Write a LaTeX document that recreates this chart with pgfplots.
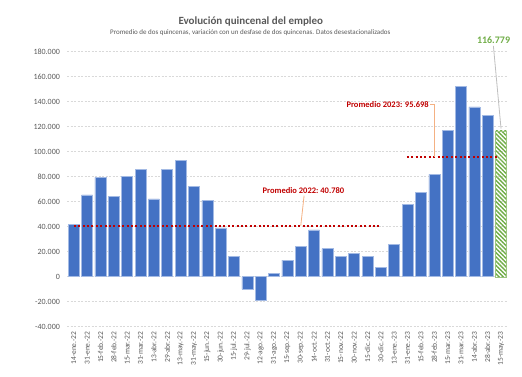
\documentclass[border=0pt]{standalone}
\usepackage{fontspec}
\setmainfont{Carlito}
\usepackage{pgfplots}
\usepackage{pgfplotstable}
\pgfplotsset{compat=1.18}
\usetikzlibrary{patterns.meta}
\definecolor{barblue}{HTML}{4472C4}
\definecolor{baredge}{HTML}{A3BAE4}
\definecolor{avgred}{HTML}{C00000}
\definecolor{hgreen}{HTML}{70AD47}
\definecolor{txtgray}{HTML}{595959}
\definecolor{gridgray}{HTML}{D9D9D9}
\definecolor{leadorange}{HTML}{F4B183}
\definecolor{leadgray}{HTML}{BFBFBF}

\pgfplotstableread{
x y
0 42000
1 65400
2 79500
3 64000
4 80300
5 85900
6 62200
7 85800
8 92800
9 72500
10 61100
11 39000
12 16300
13 -10100
14 -19200
15 2900
16 13300
17 24500
18 37400
19 22400
20 16000
21 18700
22 16500
23 7500
24 25900
25 57800
26 67200
27 81900
28 117200
29 152500
30 135800
31 129100
}\empleo

\begin{document}
\begin{tikzpicture}
\useasboundingbox (-67.1pt,-49.3pt) rectangle (454.9pt,326.7pt);
\begin{axis}[
  scale only axis, width=440.6pt, height=275pt,
  at={(0pt,0pt)}, anchor=south west,
  xmin=-0.5, xmax=32.5, ymin=-40000, ymax=180000,
  ytick={-40000,-20000,...,180000},
  xtick={0,...,32},
  xticklabels={14-ene.-22,31-ene.-22,15-feb.-22,28-feb.-22,15-mar.-22,31-mar.-22,13-abr.-22,29-abr.-22,13-may.-22,31-may.-22,15-jun.-22,30-jun.-22,15-jul.-22,29-jul.-22,12-ago.-22,31-ago.-22,15-sep.-22,30-sep.-22,14-oct.-22,31-oct.-22,15-nov.-22,30-nov.-22,15-dic.-22,30-dic.-22,13-ene.-23,31-ene.-23,15-feb.-23,28-feb.-23,15-mar.-23,31-mar.-23,14-abr.-23,28-abr.-23,15-may.-23},
  xticklabel style={rotate=90, anchor=east, inner sep=0pt, font=\fontsize{7.5}{8}\selectfont, text=txtgray},
  xticklabel shift=5pt,
  yticklabel style={inner sep=0pt, font=\fontsize{8}{9}\selectfont, text=txtgray},
  yticklabel shift=7pt,
  /pgf/number format/.cd, fixed, precision=0, 1000 sep={.}, assume math mode=true,
  /pgfplots/.cd,
  scaled y ticks=false,
  axis line style={draw=none},
  major tick length=0pt,
  ymajorgrids,
  grid style={gridgray, line width=0.6pt, dash pattern=on 2pt off 1.5pt},
  clip=false,
]
\addplot[ybar, bar width=11pt, bar shift=0pt, fill=barblue, draw=baredge, line width=0.5pt] table[x=x,y=y] {\empleo};
\addplot[ybar, bar width=11pt, bar shift=0pt, draw=hgreen!70, line width=0.4pt,
  pattern={Lines[angle=-45, distance=3pt, line width=1.4pt]}, pattern color=hgreen] coordinates {(32,116779)};
\addplot[avgred, line width=2pt, dash pattern=on 2pt off 2.4pt] coordinates {(0,40780) (23,40780)};
\addplot[avgred, line width=2pt, dash pattern=on 2pt off 2.4pt] coordinates {(24.95,95698) (31.75,95698)};

\draw[leadorange, line width=0.8pt] (axis cs:17.25,64800) -- (axis cs:17.0,40780);
\node[font=\fontsize{8.5}{10}\selectfont\bfseries, text=avgred] at (axis cs:17.2,68800) {Promedio 2022:\ 40.780};
\draw[leadorange, line width=0.8pt] (axis cs:26.7,137900) -- (axis cs:26.98,137900) -- (axis cs:26.98,95698);
\node[anchor=east, inner sep=1pt, font=\fontsize{8.5}{10}\selectfont\bfseries, text=avgred] at (axis cs:26.68,137900) {Promedio 2023: 95.698};
\draw[leadgray, line width=0.8pt] (axis cs:31.43,184600) -- (axis cs:32,118500);
\node[font=\fontsize{10}{12}\selectfont\bfseries, text=hgreen] at (axis cs:31.44,189400) {116.779};
\end{axis}
\node[font=\fontsize{11}{13}\selectfont\bfseries, text=txtgray] at (183.7pt,304.7pt) {Evolución quincenal del empleo};
\node[font=\fontsize{7}{8}\selectfont, text=txtgray] at (183.2pt,293.7pt) {Promedio de dos quincenas, variación con un desfase de dos quincenas. Datos desestacionalizados};
\end{tikzpicture}
\end{document}
